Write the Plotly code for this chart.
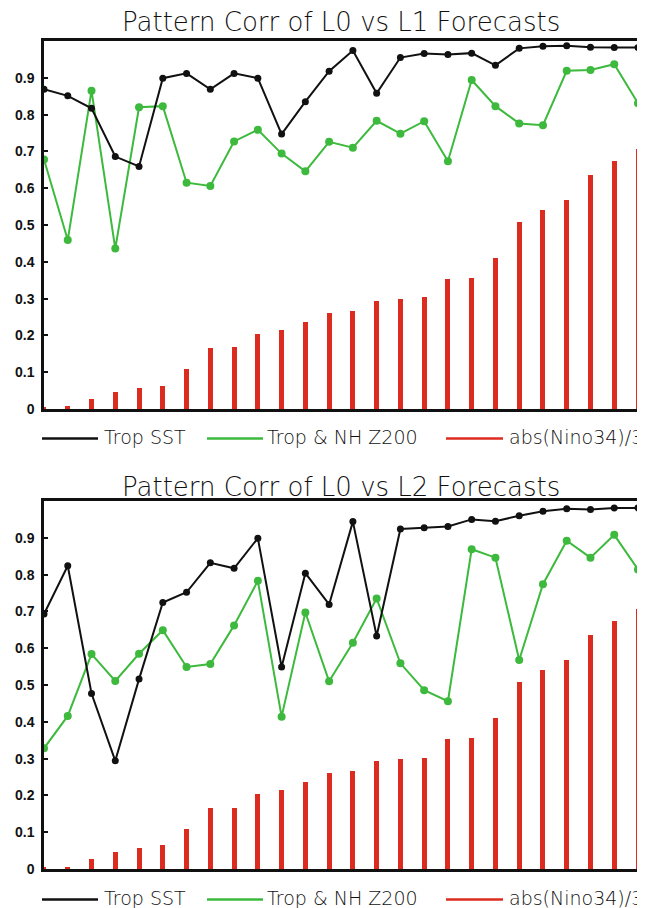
import plotly.graph_objects as go

# ---------------- data ----------------
x_idx = list(range(26))

nino_bars_l1 = [0.005, 0.008, 0.027, 0.046, 0.057, 0.063, 0.109, 0.166, 0.168, 0.204,
                0.215, 0.236, 0.261, 0.266, 0.293, 0.299, 0.304, 0.353, 0.356, 0.410,
                0.508, 0.541, 0.568, 0.636, 0.674, 0.707]
trop_sst_l1 = [0.869, 0.851, 0.817, 0.686, 0.659, 0.899, 0.912, 0.869, 0.912, 0.899,
               0.747, 0.835, 0.918, 0.974, 0.858, 0.955, 0.966, 0.963, 0.967, 0.934,
               0.980, 0.986, 0.987, 0.983, 0.982, 0.982]
z200_l1 = [0.678, 0.459, 0.865, 0.436, 0.820, 0.823, 0.615, 0.606, 0.727, 0.759,
           0.694, 0.646, 0.726, 0.710, 0.783, 0.748, 0.782, 0.673, 0.894, 0.823,
           0.776, 0.771, 0.919, 0.921, 0.937, 0.831]

nino_bars_l2 = [0.005, 0.006, 0.026, 0.045, 0.056, 0.064, 0.110, 0.165, 0.167, 0.203,
                0.214, 0.237, 0.262, 0.265, 0.293, 0.298, 0.303, 0.352, 0.355, 0.410,
                0.507, 0.540, 0.567, 0.635, 0.673, 0.706]
trop_sst_l2 = [0.693, 0.824, 0.477, 0.294, 0.516, 0.724, 0.752, 0.832, 0.817, 0.899,
               0.549, 0.804, 0.719, 0.944, 0.633, 0.924, 0.927, 0.931, 0.950, 0.945,
               0.960, 0.972, 0.979, 0.977, 0.981, 0.981]
z200_l2 = [0.328, 0.416, 0.584, 0.511, 0.585, 0.649, 0.549, 0.557, 0.662, 0.783,
           0.414, 0.697, 0.510, 0.615, 0.735, 0.559, 0.486, 0.456, 0.869, 0.846,
           0.568, 0.774, 0.892, 0.846, 0.908, 0.814]

titles = ["Pattern Corr of L0 vs L1 Forecasts", "Pattern Corr of L0 vs L2 Forecasts"]
series_names = ["Trop SST", "Trop & NH Z200", "abs(Nino34)/3"]
y_tickvals = [0, 0.1, 0.2, 0.3, 0.4, 0.5, 0.6, 0.7, 0.8, 0.9]
y_ticktext = ["0", "0.1", "0.2", "0.3", "0.4", "0.5", "0.6", "0.7", "0.8", "0.9"]

# ---------------- style ----------------
BLACK = "#111111"
GREEN = "#3dba3d"
RED = "#dc2b1f"
W, H = 645, 908
OFF = 8  # default page body margin
# target plot-area edges in page pixels
P_LEFT, P_RIGHT, P_TOP, P_BOTTOM = 44, 638, 41, 869
ML = P_LEFT - OFF
MR = W - (P_RIGHT - OFF)
MT = P_TOP - OFF
MB = H - (P_BOTTOM - OFF)
PW = W - ML - MR
PH = H - MT - MB
TITLE_FONT = dict(family="DejaVu Sans", size=26, color="#111111", weight=200)
LEG_FONT = dict(family="DejaVu Sans", size=19, color="#111111", weight=200)


def px_x(X):
    return (X - P_LEFT) / PW


def px_y(Y):
    return (P_BOTTOM - Y) / PH


fig = go.Figure()

panels = [
    ("x", "y", nino_bars_l1, trop_sst_l1, z200_l1),
    ("x2", "y2", nino_bars_l2, trop_sst_l2, z200_l2),
]
for xa, ya, bars, sst, z in panels:
    fig.add_trace(go.Bar(x=x_idx, y=bars, width=0.21, marker=dict(color=RED, line=dict(width=0)),
                         xaxis=xa, yaxis=ya, showlegend=False, name=series_names[2]))
    fig.add_trace(go.Scatter(x=x_idx, y=z, mode="lines+markers",
                             line=dict(color=GREEN, width=2), marker=dict(color=GREEN, size=8),
                             xaxis=xa, yaxis=ya, showlegend=False, name=series_names[1]))
    fig.add_trace(go.Scatter(x=x_idx, y=sst, mode="lines+markers",
                             line=dict(color=BLACK, width=2), marker=dict(color=BLACK, size=7),
                             xaxis=xa, yaxis=ya, showlegend=False, name=series_names[0]))

top_dom = [px_y(409), 1]
bot_dom = [0, px_y(501)]

xcommon = dict(range=[0, 25], showline=True, linecolor=BLACK, linewidth=2.5, mirror=True,
               ticks="", showticklabels=False, showgrid=False, zeroline=False, fixedrange=True,
               automargin=False)
ycommon = dict(range=[0, 1], tickvals=y_tickvals, ticktext=y_ticktext, ticks="inside",
               ticklen=4, tickwidth=1.5, tickcolor=BLACK, showline=True, linecolor=BLACK,
               linewidth=2.5, mirror=True, showgrid=False, zeroline=False, ticklabelstandoff=4,
               automargin=False,
               tickfont=dict(family="Liberation Sans", size=14, color="#111111", weight="bold"))

fig.update_layout(
    width=W, height=H,
    margin=dict(l=ML, r=MR, t=MT, b=MB, autoexpand=False),
    paper_bgcolor="white", plot_bgcolor="white",
    showlegend=False,
    bargap=0,
    xaxis=dict(domain=[0, 1], anchor="y", **xcommon),
    yaxis=dict(domain=top_dom, anchor="x", **ycommon),
    xaxis2=dict(domain=[0, 1], anchor="y2", **xcommon),
    yaxis2=dict(domain=bot_dom, anchor="x2", **ycommon),
)

annotations = []
shapes = []
title_centers = [22, 487]
legend_rows = [437, 898]
for t, ty in zip(titles, title_centers):
    annotations.append(dict(text=t, x=px_x(341), y=px_y(ty), xref="paper", yref="paper",
                            xanchor="center", yanchor="middle", showarrow=False, font=TITLE_FONT))

leg_items = [(42, 98, 102, BLACK), (207, 263, 265, GREEN), (446, 503, 507, RED)]
for ly in legend_rows:
    for (x0, x1, xt, col), name in zip(leg_items, series_names):
        shapes.append(dict(type="line", xref="paper", yref="paper",
                           x0=px_x(x0), x1=px_x(x1), y0=px_y(ly + 1.5), y1=px_y(ly + 1.5),
                           line=dict(color=col, width=2.5)))
        annotations.append(dict(text=name, x=px_x(xt), y=px_y(ly), xref="paper", yref="paper",
                                xanchor="left", yanchor="middle", showarrow=False, font=LEG_FONT))

fig.update_layout(annotations=annotations, shapes=shapes)
fig.write_html("out.html")
